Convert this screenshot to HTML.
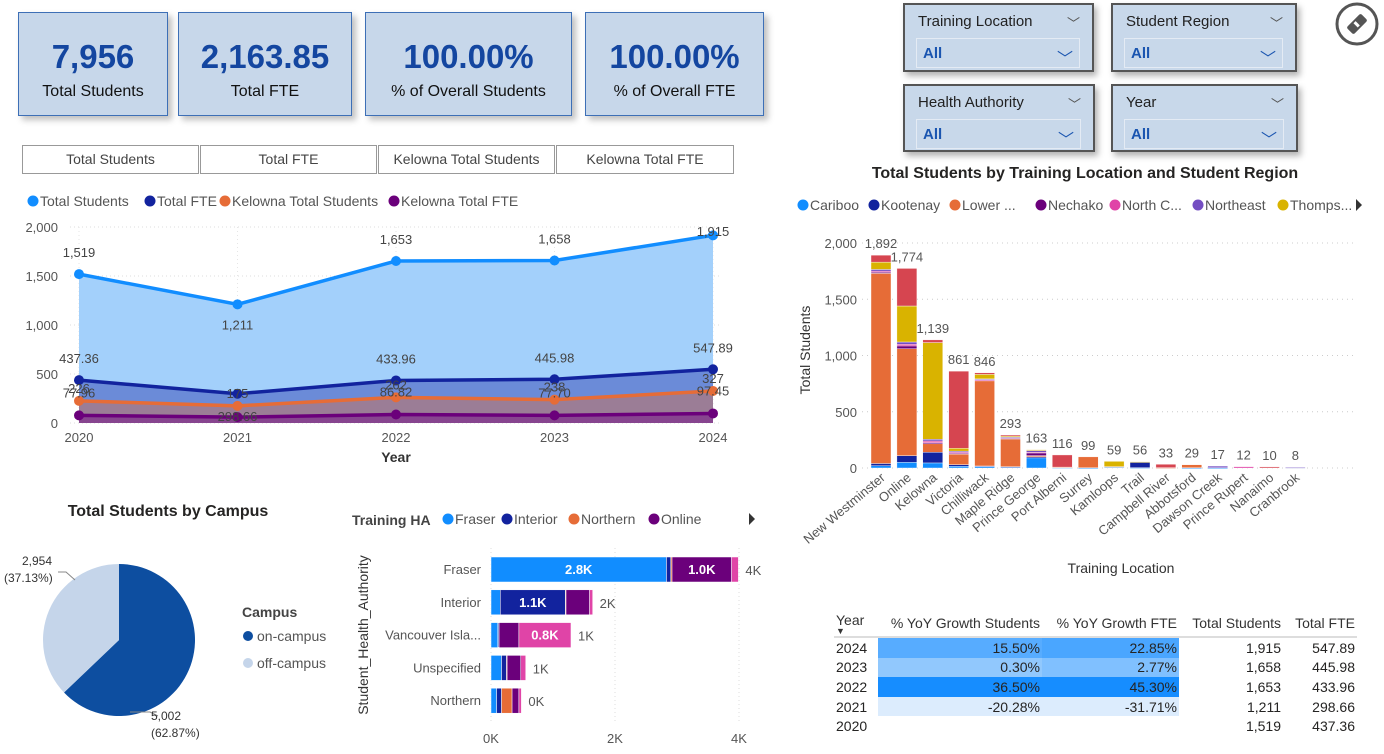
<!DOCTYPE html>
<html><head><meta charset="utf-8">
<style>
body{margin:0;width:1384px;height:754px;background:#fff;font-family:"Liberation Sans",sans-serif;position:relative;overflow:hidden;color:#252423}
.card{position:absolute;top:12px;height:102px;background:#c7d7ea;border:1px solid #3d6fb6;box-shadow:4px 4px 6px rgba(0,0,0,.25);text-align:center}
.card .v{font-weight:bold;font-size:33px;color:#1446a0;margin-top:26px;line-height:36px}
.card .l{font-size:16px;color:#111;margin-top:8px}
.btn{position:absolute;top:145px;height:27px;border:1px solid #999;background:#fff;font-size:14px;color:#444;text-align:center;line-height:27px}
.sl{position:absolute;background:#c8d8ea;border:2px solid #555;box-shadow:3px 4px 6px rgba(0,0,0,.3)}
.sl .t{position:absolute;left:13px;top:8px;font-size:15px;color:#222}
.sl .c{position:absolute;right:12px;top:8px;font-size:13px;color:#555}
.sl .dd{position:absolute;left:11px;top:33px;right:12px;height:28px;border:1px solid #e4ebf4}
.sl .dd span{position:absolute;left:6px;top:6px;font-size:15px;color:#1a55b0;font-weight:bold}
.sl .dd i{position:absolute;right:6px;top:6px;font-style:normal;color:#1a55b0;font-size:16px}
table{position:absolute;left:834px;top:610px;border-collapse:collapse;font-size:14px}
td,th{padding:0 2px;height:19.6px;text-align:right;white-space:nowrap}
th{font-weight:normal;color:#333;height:26px;border-bottom:2px solid #ddd}
</style></head><body>
<div class="card" style="left:18px;width:148px"><div class="v">7,956</div><div class="l">Total Students</div></div>
<div class="card" style="left:178px;width:172px"><div class="v">2,163.85</div><div class="l">Total FTE</div></div>
<div class="card" style="left:365px;width:205px"><div class="v">100.00%</div><div class="l">% of Overall Students</div></div>
<div class="card" style="left:585px;width:177px"><div class="v">100.00%</div><div class="l">% of Overall FTE</div></div>

<div class="btn" style="left:22px;width:175px">Total Students</div>
<div class="btn" style="left:200px;width:175px">Total FTE</div>
<div class="btn" style="left:378px;width:175px">Kelowna Total Students</div>
<div class="btn" style="left:556px;width:176px">Kelowna Total FTE</div>

<div class="sl" style="left:903px;top:3px;width:187px;height:65px"><div class="t">Training Location</div><div class="c">﹀</div><div class="dd"><span>All</span><i>﹀</i></div></div>
<div class="sl" style="left:1111px;top:3px;width:182px;height:65px"><div class="t">Student Region</div><div class="c">﹀</div><div class="dd"><span>All</span><i>﹀</i></div></div>
<div class="sl" style="left:903px;top:84px;width:188px;height:64px"><div class="t">Health Authority</div><div class="c">﹀</div><div class="dd"><span>All</span><i>﹀</i></div></div>
<div class="sl" style="left:1111px;top:84px;width:183px;height:64px"><div class="t">Year</div><div class="c">﹀</div><div class="dd"><span>All</span><i>﹀</i></div></div>
<svg style="position:absolute;left:1334px;top:2px" width="46" height="46"><circle cx="23" cy="22" r="20" fill="none" stroke="#555" stroke-width="3"/><g transform="rotate(-45 23 22)"><rect x="13" y="17" width="20" height="10" rx="2" fill="#555"/><rect x="21" y="19" width="3" height="6" fill="#fff"/></g></svg>

<svg id="main" width="1384" height="754" style="position:absolute;left:0;top:0" font-family="Liberation Sans, sans-serif"></svg>

<table>
<tr><th style="text-align:left;width:40px">Year<div style="font-size:9px;line-height:6px">▼</div></th><th style="width:160px">% YoY Growth Students</th><th style="width:133px">% YoY Growth FTE</th><th style="width:100px">Total Students</th><th style="width:70px">Total FTE</th></tr>
<tr><td style="text-align:left">2024</td><td style="background:#57acff">15.50%</td><td style="background:#4aa6ff">22.85%</td><td>1,915</td><td>547.89</td></tr>
<tr><td style="text-align:left">2023</td><td style="background:#91c8fd">0.30%</td><td style="background:#80c0ff">2.77%</td><td>1,658</td><td>445.98</td></tr>
<tr><td style="text-align:left">2022</td><td style="background:#168dff">36.50%</td><td style="background:#168dff">45.30%</td><td>1,653</td><td>433.96</td></tr>
<tr><td style="text-align:left">2021</td><td style="background:#dcecfd">-20.28%</td><td style="background:#dcecfd">-31.71%</td><td>1,211</td><td>298.66</td></tr>
<tr><td style="text-align:left">2020</td><td></td><td></td><td>1,519</td><td>437.36</td></tr>
</table>

<script>
// ---- line chart data
const years = ["2020","2021","2022","2023","2024"];
const totalStudents = [1519,1211,1653,1658,1915];
const totalFTE = [437.36,298.66,433.96,445.98,547.89];
const kelownaStudents = [226,175,262,238,327];
const kelownaFTE = [77.96,60,86.82,77.70,97.45];
const lineTicks = [0,500,1000,1500,2000];
// ---- stacked column data
const locations = ["New Westminster","Online","Kelowna","Victoria","Chilliwack","Maple Ridge","Prince George","Port Alberni","Surrey","Kamloops","Trail","Campbell River","Abbotsford","Dawson Creek","Prince Rupert","Nanaimo","Cranbrook"];
const regionNames = ["Cariboo","Kootenay","Lower ...","Nechako","North C...","Northeast","Thomps...","Vancouver"];
const cariboo   = [20,50,45,15,15,10,90,3,2,8,3,0,2,2,0,0,0];
const kootenay  = [20,60,95,15,3,2,10,0,0,0,48,0,0,0,0,0,4];
const lowerMain = [1690,950,75,95,760,250,10,5,97,5,0,3,27,0,0,0,0];
const nechako   = [10,25,10,5,3,2,25,0,0,0,0,0,0,0,0,0,0];
const northC    = [10,15,15,10,3,5,5,0,0,0,0,0,0,0,12,0,0];
const northeast = [15,20,15,10,8,4,15,0,0,0,0,0,0,15,0,0,4];
const thompson  = [65,320,860,25,40,10,8,0,0,46,5,0,0,0,0,0,0];
const vancouver = [62,334,24,686,14,10,0,108,0,0,0,30,0,0,0,10,0];
const colTicks = [0,500,1000,1500,2000];
// ---- pie data
const campusNames = ["on-campus","off-campus"];
const campusValues = [5002,2954];
// ---- horizontal bar data
const haCats = ["Fraser","Interior","Vancouver Isla...","Unspecified","Northern"];
const haFraser   = [2830,150,110,170,90];
const haInterior = [70,1050,15,80,80];
const haNorthern = [20,10,5,10,170];
const haOnline   = [960,380,320,220,110];
const haVanIsl   = [110,50,840,80,40];
const haTicks = [0,2000,4000];

const NS="http://www.w3.org/2000/svg";
const svg=document.getElementById('main');
function el(tag,attrs,parent,text){const e=document.createElementNS(NS,tag);for(const k in attrs)e.setAttribute(k,attrs[k]);if(text!==undefined)e.textContent=text;(parent||svg).appendChild(e);return e;}
const fmt=v=>v.toLocaleString('en-US');

// ===== LINE CHART =====
const lc=el('g',{});


const lx=i=>79+i*(713-79)/(years.length-1);
const ly=v=>423-v*(196/2000);
const legL=[["Total Students","#118dff",27],["Total FTE","#12239e",144],["Kelowna Total Students","#e66c37",219],["Kelowna Total FTE","#6b007b",388]];
legL.forEach(d=>{const g=el('g',{},lc);el('circle',{cx:d[2]+6,cy:201,r:5.5,fill:d[1]},g);el('text',{x:d[2]+13,y:206,'font-size':14,fill:'#555'},g,d[0]);});
lineTicks.forEach(t=>{el('line',{x1:70,x2:720,y1:ly(t),y2:ly(t),stroke:'#ddd','stroke-dasharray':'1 3'},lc);el('text',{x:58,y:ly(t)+5,'font-size':13,fill:'#555','text-anchor':'end'},lc,fmt(t));});
years.forEach((y,i)=>{el('line',{x1:lx(i),x2:lx(i),y1:227,y2:423,stroke:'#e6e6e6','stroke-dasharray':'1 3'},lc);el('text',{x:lx(i),y:442,'font-size':13,fill:'#555','text-anchor':'middle'},lc,y);});
el('text',{x:396,y:462,'font-size':14,'font-weight':'bold',fill:'#333','text-anchor':'middle'},lc,'Year');
const series=[[totalStudents,'#118dff','#a3d0fb','total-students'],[totalFTE,'#12239e','#6b8bd8','total-fte'],[kelownaStudents,'#e66c37','#9b7d96','kelowna-students'],[kelownaFTE,'#6b007b','#87458f','kelowna-fte']];
series.forEach(s=>{let p=s[0].map((v,i)=>lx(i)+','+ly(v)).join(' L');
  const a=el('path',{d:'M'+lx(0)+','+ly(0)+' L'+p+' L'+lx(years.length-1)+','+ly(0)+'Z',fill:s[2]},lc);});
series.forEach(s=>{let p=s[0].map((v,i)=>lx(i)+','+ly(v)).join(' L');
  const l=el('path',{d:'M'+p,fill:'none',stroke:s[1],'stroke-width':3.5},lc);
  s[0].forEach((v,i)=>{const c=el('circle',{cx:lx(i),cy:ly(v),r:5,fill:s[1]},lc);});});
totalStudents.forEach((v,i)=>el('text',{x:lx(i),y:i==1?ly(v)+25:Math.max(ly(v)-17,236),'font-size':13,fill:'#444','text-anchor':'middle'},lc,fmt(v)));
totalFTE.forEach((v,i)=>el('text',{x:lx(i),y:ly(v)-17,'font-size':13,fill:'#444','text-anchor':'middle'},lc,i==1?'':v.toFixed(2)));
kelownaStudents.forEach((v,i)=>el('text',{x:lx(i),y:ly(v)-8,'font-size':13,fill:'#444','text-anchor':'middle'},lc,fmt(v)));
kelownaFTE.forEach((v,i)=>el('text',{x:lx(i),y:ly(v)-18,'font-size':13,fill:'#444','text-anchor':'middle'},lc,i==1?'':v.toFixed(2)));
el('text',{x:lx(1),y:ly(0)-2,'font-size':13,fill:'#444','text-anchor':'middle'},lc,totalFTE[1].toFixed(2));

// ===== STACKED COLUMN =====
const sc=el('g',{});


el('text',{x:1085,y:178,'font-size':16,'font-weight':'bold',fill:'#252423','text-anchor':'middle'},sc,'Total Students by Training Location and Student Region');
const regColors=['#118dff','#12239e','#e66c37','#6b007b','#e044a7','#744ec2','#d9b300','#d64550'];
const legX=[797,868,949,1035,1109,1192,1277];
legX.forEach((x,i)=>{const g=el('g',{},sc);el('circle',{cx:x+6,cy:205,r:5.5,fill:regColors[i]},g);el('text',{x:x+13,y:210,'font-size':14,fill:'#555'},g,regionNames[i]);});
el('path',{d:'M1356,199 L1362,205 L1356,211Z',fill:'#333'},sc);
const cy=v=>468-v*(225/2000);
const cx=i=>881+i*25.9;
colTicks.forEach(t=>{el('line',{x1:862,x2:1355,y1:cy(t),y2:cy(t),stroke:'#ccc','stroke-dasharray':'1 4'},sc);el('text',{x:857,y:cy(t)+5,'font-size':13,fill:'#555','text-anchor':'end'},sc,fmt(t));});
el('text',{transform:'translate(810,350) rotate(-90)','font-size':14,fill:'#333','text-anchor':'middle'},sc,'Total Students');
el('text',{x:1121,y:573,'font-size':14,fill:'#333','text-anchor':'middle'},sc,'Training Location');
const regData=[cariboo,kootenay,lowerMain,nechako,northC,northeast,thompson,vancouver];
locations.forEach((loc,i)=>{let base=0;regData.forEach((arr,r)=>{const v=arr[i];if(!v)return;const b=el('rect',{x:cx(i)-10,y:cy(base+v),width:20,height:Math.max(v*225/2000,0.8),fill:regColors[r],stroke:'#fff','stroke-width':0.4},sc);base+=v;});
  el('text',{x:cx(i),y:cy(base)-7,'font-size':13,fill:'#555','text-anchor':'middle'},sc,fmt(base));
  el('text',{transform:`translate(${cx(i)+5},479) rotate(-40)`,'font-size':13,fill:'#555','text-anchor':'end'},sc,loc);});

// ===== PIE =====
const pc=el('g',{});


el('text',{x:168,y:516,'font-size':16,'font-weight':'bold',fill:'#252423','text-anchor':'middle'},pc,'Total Students by Campus');
const pCol=['#0d4ea0','#c5d5ea'];const tot=campusValues.reduce((a,b)=>a+b,0);
let ang=0;const PX=119,PY=640,PR=76;
campusValues.forEach((v,i)=>{const a0=ang,a1=ang+v/tot*2*Math.PI;ang=a1;
  const p=`M${PX},${PY} L${PX+PR*Math.sin(a0)},${PY-PR*Math.cos(a0)} A${PR},${PR} 0 ${a1-a0>Math.PI?1:0} 1 ${PX+PR*Math.sin(a1)},${PY-PR*Math.cos(a1)}Z`;
  const s=el('path',{d:p,fill:pCol[i]},pc);});
el('path',{d:'M58,572 L66,572 L75,580',fill:'none',stroke:'#888'},pc);
el('text',{x:22,y:565,'font-size':12,fill:'#333'},pc,fmt(campusValues[1]));
el('text',{x:4,y:582,'font-size':12,fill:'#333'},pc,'('+(campusValues[1]/tot*100).toFixed(2)+'%)');
el('path',{d:'M130,712 L150,712 L158,716',fill:'none',stroke:'#888'},pc);
el('text',{x:151,y:720,'font-size':12,fill:'#333'},pc,fmt(campusValues[0]));
el('text',{x:151,y:737,'font-size':12,fill:'#333'},pc,'('+(campusValues[0]/tot*100).toFixed(2)+'%)');
el('text',{x:242,y:617,'font-size':14,'font-weight':'bold',fill:'#444'},pc,'Campus');
campusNames.forEach((n,i)=>{el('circle',{cx:248,cy:636+i*27,r:5,fill:pCol[i]},pc);el('text',{x:257,y:641+i*27,'font-size':14,fill:'#555'},pc,n);});

// ===== HORIZONTAL BAR =====
const hb=el('g',{});


el('text',{x:352,y:525,'font-size':14,'font-weight':'bold',fill:'#444'},hb,'Training HA');
const haCol=['#118dff','#12239e','#e66c37','#6b007b','#e044a7'];
[["Fraser",442],["Interior",501],["Northern",568],["Online",648]].forEach((d,i)=>{el('circle',{cx:d[1]+6,cy:519,r:5.5,fill:haCol[i]},hb);el('text',{x:d[1]+13,y:524,'font-size':14,fill:'#555'},hb,d[0]);});
el('path',{d:'M749,513 L755,519 L749,525Z',fill:'#333'},hb);
const hx=v=>491+v*(248/4000);
haTicks.forEach(t=>{el('line',{x1:hx(t),x2:hx(t),y1:548,y2:722,stroke:'#ddd','stroke-dasharray':'1 3'},hb);el('text',{x:hx(t),y:743,'font-size':13,fill:'#555','text-anchor':'middle'},hb,(t/1000)+'K');});
el('text',{transform:'translate(368,635) rotate(-90)','font-size':14,fill:'#333','text-anchor':'middle'},hb,'Student_Health_Authority');
const haData=[haFraser,haInterior,haNorthern,haOnline,haVanIsl];
haCats.forEach((c,i)=>{const yc=569+i*32.8;let base=0;
  el('text',{x:481,y:yc+5,'font-size':13,fill:'#555','text-anchor':'end'},hb,c);
  haData.forEach((arr,s)=>{const v=arr[i];const r=el('rect',{x:hx(base),y:yc-12,width:v*248/4000,height:25,fill:haCol[s],stroke:'#fff','stroke-width':0.5},hb);
    if(v>=700)el('text',{x:hx(base+v/2),y:yc+5,'font-size':13,'font-weight':'bold',fill:'#fff','text-anchor':'middle'},hb,(v/1000).toFixed(1)+'K');base+=v;});
  el('text',{x:hx(base)+7,y:yc+6,'font-size':13,fill:'#555'},hb,Math.round(base/1000)+'K');});
</script>
</body></html>
